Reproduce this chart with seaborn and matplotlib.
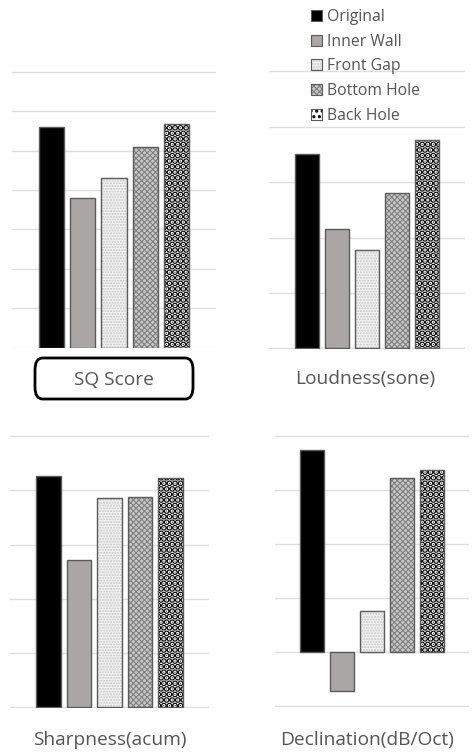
import matplotlib
matplotlib.use("Agg")
import matplotlib.pyplot as plt
import seaborn as sns
import pandas as pd
from matplotlib.patches import Patch, FancyBboxPatch

sns.set_theme(style="white")
plt.rcParams['font.family'] = ['Open Sans', 'DejaVu Sans']
plt.rcParams['hatch.linewidth'] = 1.0

conditions = ["Original", "Inner Wall", "Front Gap", "Bottom Hole", "Back Hole"]
sq_score = [5.6, 3.8, 4.3, 5.08, 5.68]
loudness = [3.51, 2.15, 1.77, 2.81, 3.76]
sharpness = [4.27, 2.71, 3.86, 3.87, 4.23]
declination = [3.74, -0.72, 0.77, 3.22, 3.37]
panel_titles = ["SQ Score", "Loudness(sone)", "Sharpness(acum)", "Declination(dB/Oct)"]

faces = ["#000000", "#aaa6a6", "#f4f4f4", "#c8c8c8", "#ffffff"]
hatch_colors = ["#000000", "#aaa6a6", "#c4c4c4", "#808080", "#000000"]
hatches = [None, None, "......", "xxxxxx", "..."]
hatch_lws = [1.0, 1.0, 1.0, 0.8, 3.2]
edge = "#5a5a5a"

fig = plt.figure(figsize=(4.73, 7.53), dpi=100)
W, H = 473, 753

def add_ax(x0, x1, ytop, ybot):
    return fig.add_axes([x0 / W, 1 - ybot / H, (x1 - x0) / W, (ybot - ytop) / H])

def style_hatch(p, hc, h, hlw):
    if h:
        p.set_hatch(h)
        p._hatch_color = matplotlib.colors.to_rgba(hc)
        if hasattr(p, "set_hatch_linewidth"):
            p.set_hatch_linewidth(hlw)

axes_spec = [
    (add_ax(12, 216, 71, 348), sq_score, (0, 7)),
    (add_ax(269, 465, 70, 349), loudness, (0, 5)),
    (add_ax(10, 209, 435, 708), sharpness, (0, 5)),
    (add_ax(275, 469, 435, 707), declination, (-1, 4)),
]

for ax, vals, (lo, hi) in axes_spec:
    df = pd.DataFrame({"cond": conditions, "val": vals})
    sns.barplot(data=df, x="cond", y="val", hue="cond", palette=faces,
                legend=False, ax=ax, width=0.8, saturation=1,
                edgecolor=edge, linewidth=1.0)
    for p, hc, h, hlw in zip(ax.patches, hatch_colors, hatches, hatch_lws):
        style_hatch(p, hc, h, hlw)
    ax.set_xlim(-1.25, 5.25)
    ax.set_ylim(lo - 0.01, hi + 0.02)
    ax.set_yticks(range(lo, hi + 1))
    ax.yaxis.grid(True, color="#dedede", linewidth=1.0)
    ax.set_axisbelow(True)
    for s in ax.spines.values():
        s.set_visible(False)
    ax.set_xticks([])
    ax.set_yticklabels([])
    ax.tick_params(left=False, bottom=False)
    ax.set_xlabel("")
    ax.set_ylabel("")

text_color = "#555555"
tfs = 13.8
fig.text(114 / W, 1 - 380 / H, panel_titles[0], ha="center", va="center",
         fontsize=tfs, color=text_color)
fig.patches.append(FancyBboxPatch((35 / W, 1 - 399 / H), 158 / W, 41 / H,
                                  boxstyle="round,pad=0,rounding_size=0.016",
                                  transform=fig.transFigure, fc="none",
                                  ec="black", lw=2))
fig.text(365 / W, 1 - 379 / H, panel_titles[1], ha="center", va="center",
         fontsize=tfs, color=text_color)
fig.text(110 / W, 1 - 740 / H, panel_titles[2], ha="center", va="center",
         fontsize=tfs, color=text_color)
fig.text(367 / W, 1 - 740 / H, panel_titles[3], ha="center", va="center",
         fontsize=tfs, color=text_color)

handles = []
for c, f, h in zip(conditions, faces, hatches):
    p = Patch(facecolor=f, edgecolor=edge, hatch=h, label=c, linewidth=0.8)
    handles.append(p)
leg = fig.legend(handles=handles, loc="upper left", bbox_to_anchor=(311 / W, 1 - 9 / H),
                 frameon=False, fontsize=11.3, handlelength=0.7, handleheight=0.7,
                 handletextpad=0.3, labelspacing=0.55, labelcolor=text_color,
                 borderaxespad=0, borderpad=0)
for lh, hc, h, hlw in zip(leg.legend_handles, hatch_colors, hatches, hatch_lws):
    style_hatch(lh, hc, h, min(hlw, 1.5))

fig.savefig("out.png", dpi=100, facecolor="white")
